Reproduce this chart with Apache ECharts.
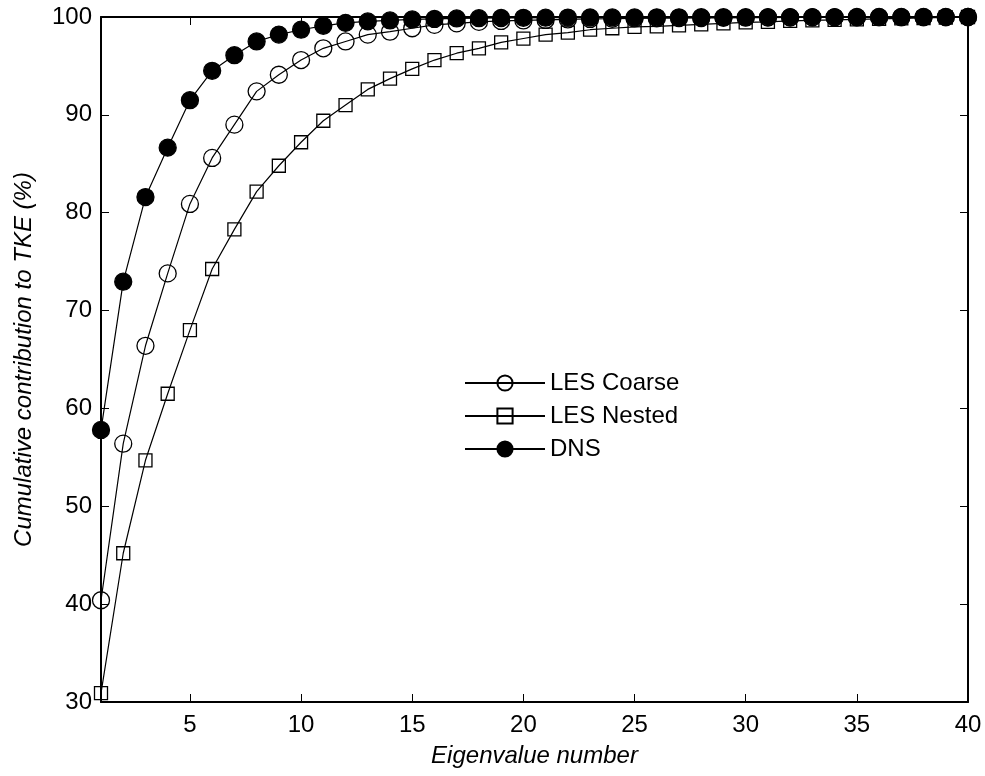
<!DOCTYPE html>
<html>
<head>
<meta charset="utf-8">
<script src="https://cdn.jsdelivr.net/npm/echarts@6/dist/echarts.min.js"></script>
<style>
  html, body { margin: 0; padding: 0; background: #fff; }
  #chart { width: 985px; height: 776px; }
</style>
</head>
<body>
<div id="chart"></div>
<script>
// eigenvalue index 1..40
const eigenNumbers = Array.from({ length: 40 }, (_, i) => i + 1);
const xTicks = [5, 10, 15, 20, 25, 30, 35, 40];

const lesCoarse = [
  40.4, 56.4, 66.4, 73.8, 80.9, 85.6, 89.0, 92.4, 94.1, 95.6,
  96.8, 97.5, 98.2, 98.5, 98.85, 99.2, 99.35, 99.5, 99.6, 99.65,
  99.7, 99.75, 99.8, 99.82, 99.85, 99.87, 99.89, 99.9, 99.92, 99.93,
  99.94, 99.95, 99.96, 99.97, 99.97, 99.98, 99.98, 99.99, 99.99, 100
];
const lesNested = [
  30.9, 45.2, 54.7, 61.5, 68.0, 74.25, 78.3, 82.15, 84.8, 87.2,
  89.4, 91.0, 92.6, 93.7, 94.7, 95.6, 96.3, 96.8, 97.4, 97.8,
  98.2, 98.4, 98.7, 98.85, 99.0, 99.05, 99.15, 99.25, 99.35, 99.45,
  99.5, 99.6, 99.65, 99.7, 99.75, 99.8, 99.85, 99.9, 99.95, 100
];
const dns = [
  57.8, 72.95, 81.6, 86.65, 91.5, 94.5, 96.1, 97.5, 98.2, 98.7,
  99.1, 99.4, 99.55, 99.65, 99.75, 99.8, 99.85, 99.88, 99.9, 99.92,
  99.93, 99.94, 99.95, 99.96, 99.96, 99.97, 99.97, 99.98, 99.98, 99.98,
  99.99, 99.99, 99.99, 99.99, 100, 100, 100, 100, 100, 100
];

const font = "'Liberation Sans', Arial, sans-serif";

const pairs = (ys) => eigenNumbers.map((x, i) => [x, ys[i]]);

const lineSeries = (name, symbol, size, filled, data) => ({
  name,
  type: "line",
  data: pairs(data),
  symbol,
  symbolSize: size,
  showAllSymbol: true,
  lineStyle: { color: "#000", width: 1.2 },
  itemStyle: {
    color: filled ? "#000" : "rgba(0,0,0,0)",
    borderColor: "#000",
    borderWidth: 1.3
  },
  emphasis: { disabled: true }
});

const axisBase = {
  axisLine: { show: true, onZero: false, lineStyle: { color: "#000", width: 2 } },
  splitLine: { show: false }
};

const chart = echarts.init(document.getElementById("chart"));
chart.setOption({
  animation: false,
  backgroundColor: "#fff",
  textStyle: { fontFamily: font },
  grid: { left: 101, right: 17, top: 17, bottom: 74 },
  legend: {
    orient: "vertical",
    left: 459,
    top: 366,
    itemWidth: 80,
    itemHeight: 19,
    itemGap: 9,
    textStyle: { fontFamily: font, fontSize: 24, color: "#000" },
    data: ["LES Coarse", "LES Nested", "DNS"]
  },
  xAxis: [
    {
      ...axisBase,
      type: "value",
      min: 1,
      max: 40,
      position: "bottom",
      name: "Eigenvalue number",
      nameLocation: "middle",
      nameGap: 42,
      nameTextStyle: { fontFamily: font, fontSize: 24, fontStyle: "italic", color: "#000" },
      axisTick: { show: true, inside: true, length: 8, customValues: xTicks, lineStyle: { color: "#000", width: 1 } },
      axisLabel: { customValues: xTicks, fontFamily: font, fontSize: 24, color: "#000", margin: 11 }
    },
    {
      ...axisBase,
      type: "value",
      min: 1,
      max: 40,
      position: "top",
      axisTick: { show: true, inside: true, length: 8, customValues: xTicks, lineStyle: { color: "#000", width: 1 } },
      axisLabel: { show: false }
    }
  ],
  yAxis: [
    {
      ...axisBase,
      type: "value",
      min: 30,
      max: 100,
      interval: 10,
      position: "left",
      name: "Cumulative contribution to TKE (%)",
      nameLocation: "middle",
      nameGap: 65,
      nameTextStyle: { fontFamily: font, fontSize: 24, fontStyle: "italic", color: "#000" },
      axisTick: { show: true, inside: true, length: 8, lineStyle: { color: "#000", width: 1 } },
      axisLabel: { fontFamily: font, fontSize: 24, color: "#000", margin: 9 }
    },
    {
      ...axisBase,
      type: "value",
      min: 30,
      max: 100,
      interval: 10,
      position: "right",
      axisTick: { show: true, inside: true, length: 8, lineStyle: { color: "#000", width: 1 } },
      axisLabel: { show: false }
    }
  ],
  series: [
    lineSeries("LES Coarse", "circle", 17, false, lesCoarse),
    lineSeries("LES Nested", "rect", 13, false, lesNested),
    lineSeries("DNS", "circle", 17, true, dns)
  ]
});
</script>
</body>
</html>
